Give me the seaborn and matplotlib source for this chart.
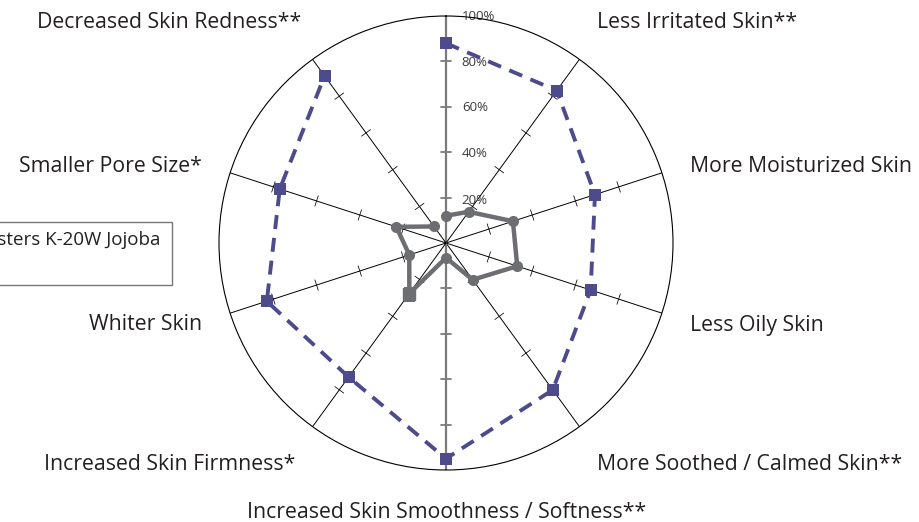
import numpy as np
import pandas as pd
import matplotlib
matplotlib.use("Agg")
import matplotlib.pyplot as plt
import seaborn as sns
from matplotlib.patches import Rectangle

# attributes, clockwise from the top spoke (top spoke has no visible label)
attributes = ["", "Less Irritated Skin**", "More Moisturized Skin", "Less Oily Skin",
              "More Soothed / Calmed Skin**", "Increased Skin Smoothness / Softness**",
              "Increased Skin Firmness*", "Whiter Skin", "Smaller Pore Size*",
              "Decreased Skin Redness**"]
jojoba = [0.88, 0.83, 0.69, 0.67, 0.80, 0.95, 0.73, 0.83, 0.77, 0.91]
control = [0.12, 0.17, 0.31, 0.33, 0.20, 0.065, 0.275, 0.17, 0.23, 0.09]
tick_values = [0.2, 0.4, 0.6, 0.8, 1.0]
tick_labels = ["20%", "40%", "60%", "80%", "100%"]
legend_label = "Floraesters K-20W Jojoba"

W, H = 919, 522
CX, CY, R = 446, 243, 227
BLUE = "#4d4b8b"
GRAY = "#6d6e71"

sns.set_style("white")
plt.rcParams["font.family"] = ["Open Sans", "DejaVu Sans"]

fig = plt.figure(figsize=(W / 100, H / 100), dpi=100)
ax = fig.add_axes([(CX - R) / W, (H - CY - R) / H, 2 * R / W, 2 * R / H], projection="polar")
ax.set_theta_zero_location("N")
ax.set_theta_direction(-1)
ax.set_ylim(0, 1)
ax.grid(False)
ax.set_xticks([])
ax.set_yticks([])
ax.spines["polar"].set_linewidth(0.8)
ax.spines["polar"].set_color("black")
ax.set_facecolor("none")

n = len(attributes)
theta = np.arange(n) * 2 * np.pi / n

# spokes with small cross ticks
for i, t in enumerate(theta):
    vertical = i in (0, n // 2)
    col = "#7a7a7a" if vertical else "black"
    lw = 1.6 if vertical else 0.7
    ax.plot([t, t], [0, 1], color=col, lw=lw, zorder=1)
    for r in tick_values[:-1]:
        d = 5.5 / (r * R)
        ax.plot([t - d, t + d], [r, r], color=col, lw=lw * 0.8, zorder=1)

# value labels on the top spoke
for r, lab in zip(tick_values, tick_labels):
    ax.text(0.07 / r, r, lab, fontsize=9.5, color="#3a3a3a", ha="left", va="center", zorder=2)

df = pd.DataFrame({
    "theta": np.append(theta, theta[0]),
    "jojoba": jojoba + jojoba[:1],
    "control": control + control[:1],
})
sns.lineplot(data=df, x="theta", y="control", sort=False, ax=ax, color=GRAY, lw=3.2,
             marker="o", markersize=8, markeredgewidth=0, zorder=3)
ax.plot(theta[6], control[6], marker="s", markersize=9, color=GRAY, zorder=4)
sns.lineplot(data=df, x="theta", y="jojoba", sort=False, ax=ax, color=BLUE, lw=2.8,
             linestyle=(0, (3.6, 2.3)), marker="s", markersize=8, markeredgewidth=0, zorder=5)
ax.set_xlabel("")
ax.set_ylabel("")

# category labels
label_pos = {
    "Decreased Skin Redness**": (169, 22, "center"),
    "Less Irritated Skin**": (697, 22, "center"),
    "More Moisturized Skin": (690, 167, "left"),
    "Less Oily Skin": (690, 325, "left"),
    "More Soothed / Calmed Skin**": (597, 464, "left"),
    "Increased Skin Smoothness / Softness**": (447, 512, "center"),
    "Increased Skin Firmness*": (295, 464, "right"),
    "Whiter Skin": (202, 325, "right"),
    "Smaller Pore Size*": (202, 167, "right"),
}
for lab, (x, y, ha) in label_pos.items():
    fig.text(x / W, 1 - y / H, lab, fontsize=15.3, ha=ha, va="center", color="#231f20")

# legend box, partly off the left edge
fig.patches.append(Rectangle((-120 / W, 1 - 285 / H), 292 / W, 63 / H, transform=fig.transFigure,
                             fill=False, edgecolor="#777777", lw=1))
fig.text(160 / W, 1 - 240 / H, legend_label, fontsize=13.5, ha="right", va="center", color="#231f20")

fig.savefig("out.png", dpi=100)
